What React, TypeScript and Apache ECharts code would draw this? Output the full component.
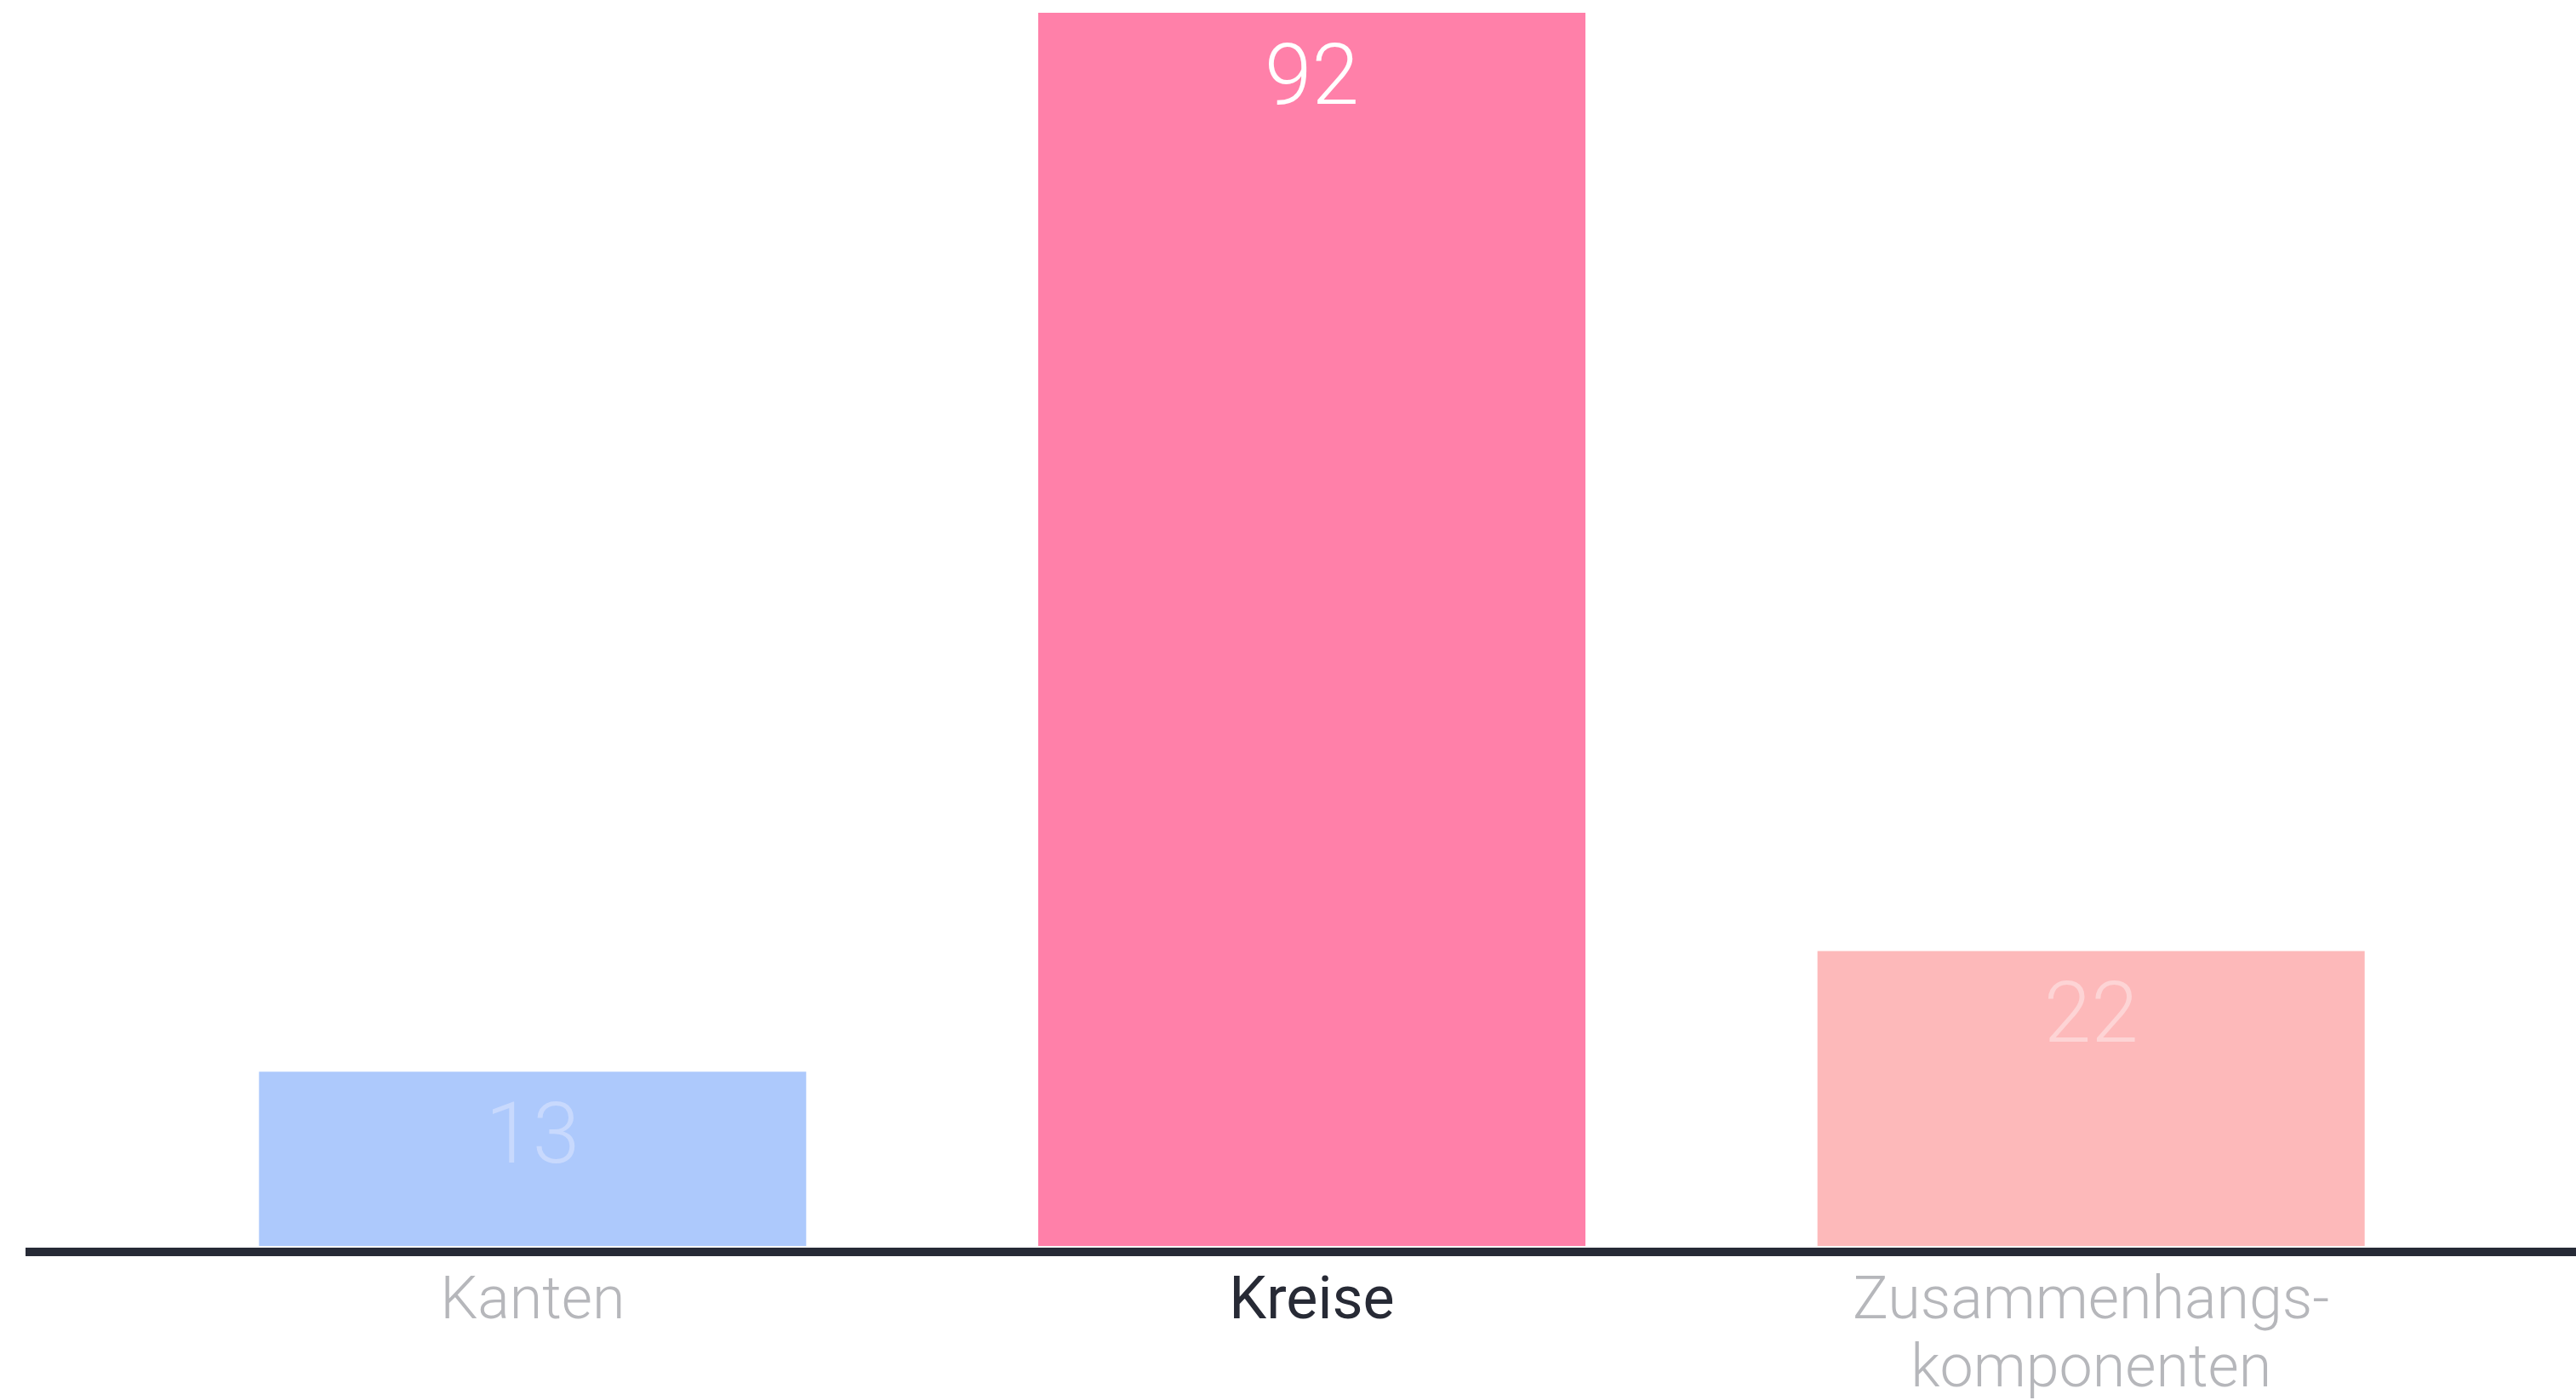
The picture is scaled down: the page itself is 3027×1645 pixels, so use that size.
import React, { useEffect, useRef } from "react";
import * as echarts from "echarts";

const categories = ["Kanten", "Kreise", "Zusammenhangs-\nkomponenten"];
const values = [13, 92, 22];
const barColors = ["#adc9fc", "#ff80a9", "#fdb9ba"];
const valueLabelColors = ["#c8d9fd", "#ffffff", "#fdd4d5"];
const categoryLabelColors = ["#b6b7bb", "#272a35", "#b6b7bb"];
const categoryLabelWeights = [300, 400, 300];

export default function App() {
  const ref = useRef<HTMLDivElement>(null);
  useEffect(() => {
    if (!ref.current) return;
    const chart = echarts.init(ref.current, undefined, { renderer: "svg" });
    chart.setOption({
      animation: false,
      backgroundColor: "#ffffff",
      grid: { left: 168, right: 112, top: 15, bottom: 179, containLabel: false },
      xAxis: {
        type: "category",
        data: categories.map((c, i) => ({
          value: c,
          textStyle: { color: categoryLabelColors[i], fontWeight: categoryLabelWeights[i] },
        })),
        axisLine: { show: false },
        axisTick: { show: false },
        axisLabel: {
          interval: 0,
          fontFamily: "Roboto",
          fontSize: 70,
          lineHeight: 80,
          margin: 21,
        },
      },
      yAxis: {
        type: "value",
        min: 0,
        max: 92,
        show: false,
        splitLine: { show: false },
      },
      series: [
        {
          type: "bar",
          barWidth: 643,
          data: values.map((v, i) => ({
            value: v,
            itemStyle: { color: barColors[i] },
            label: { color: valueLabelColors[i] },
          })),
          label: {
            show: true,
            position: "insideTop",
            distance: 22,
            fontFamily: "Roboto",
            fontWeight: 300,
            fontSize: 100,
            lineHeight: 100,
          },
        },
      ],
      graphic: [
        {
          type: "line",
          z: 100,
          shape: { x1: 30, y1: 1471, x2: 3027, y2: 1471 },
          style: { stroke: "#262a36", lineWidth: 10 },
        },
      ],
    });
    return () => chart.dispose();
  }, []);
  return (
    <div
      ref={ref}
      style={{ position: "absolute", left: 0, top: 0, width: 3027, height: 1645 }}
    />
  );
}
